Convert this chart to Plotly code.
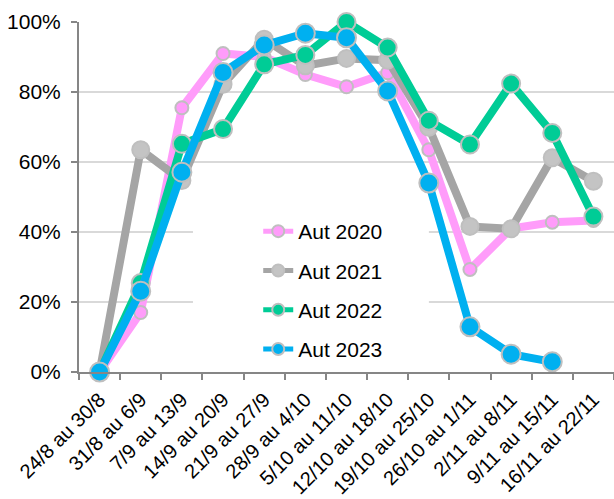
import plotly.graph_objects as go

# Weekly periods (autumn season)
weeks = [
    "24/8 au 30/8", "31/8 au 6/9", "7/9 au 13/9", "14/9 au 20/9",
    "21/9 au 27/9", "28/9 au 4/10", "5/10 au 11/10", "12/10 au 18/10",
    "19/10 au 25/10", "26/10 au 1/11", "2/11 au 8/11", "9/11 au 15/11",
    "16/11 au 22/11",
]

# Share per week, one list per autumn
aut_2020 = [0.00, 0.17, 0.755, 0.91, 0.90, 0.85, 0.815, 0.855, 0.635, 0.293, 0.41, 0.428, 0.433]
aut_2021 = [0.00, 0.635, 0.547, 0.822, 0.951, 0.875, 0.896, 0.891, 0.699, 0.416, 0.409, 0.612, 0.545]
aut_2022 = [0.00, 0.254, 0.652, 0.694, 0.879, 0.906, 1.00, 0.927, 0.718, 0.650, 0.824, 0.683, 0.444]
aut_2023 = [0.00, 0.231, 0.571, 0.856, 0.934, 0.968, 0.955, 0.803, 0.540, 0.129, 0.051, 0.029, None]

series = [
    ("Aut 2020", aut_2020, "#FF9CFA", "#FF9CFA", 13),
    ("Aut 2021", aut_2021, "#A5A5A5", "#C4C4C4", 17),
    ("Aut 2022", aut_2022, "#00CC96", "#00CC96", 18),
    ("Aut 2023", aut_2023, "#00B0F0", "#00B0F0", 19),
]

FONT = "Liberation Sans, Arial, sans-serif"

fig = go.Figure()
for name, values, line_color, marker_color, msize in series:
    fig.add_trace(go.Scatter(
        x=weeks, y=values, name=name, mode="lines+markers",
        legendgroup=name,
        line=dict(color=line_color, width=8),
        marker=dict(size=msize, color=marker_color,
                    line=dict(color="#BFBFBF", width=2)),
        cliponaxis=False,
        connectgaps=False,
    ))

# White panel behind the legend box, masking the gridlines in that area
fig.add_shape(
    type="rect", xref="paper", yref="paper",
    x0=0.213, x1=0.654, y0=0.015, y1=0.455,
    fillcolor="white", line=dict(width=0), layer="above",
)

fig.update_layout(
    width=614, height=499,
    margin=dict(l=79, r=0, t=22, b=127),
    paper_bgcolor="white", plot_bgcolor="white",
    font=dict(family=FONT, size=21, color="black"),
    showlegend=True,
    legend=dict(
        x=0.335, y=0.46, xanchor="left", yanchor="top",
        bgcolor="white", borderwidth=0,
        font=dict(family=FONT, size=21, color="black"),
        itemsizing="constant", tracegroupgap=9,
    ),
    xaxis=dict(
        type="category", range=[-0.5, len(weeks) - 0.5],
        tickangle=-45, automargin=False, ticklabelstandoff=6,
        showline=True, linecolor="#868686", linewidth=2,
        ticks="outside", tickson="boundaries", ticklen=6,
        tickcolor="#868686", tickwidth=2,
        showgrid=False, tickfont=dict(size=20),
    ),
    yaxis=dict(
        range=[0, 1], tickvals=[0, 0.2, 0.4, 0.6, 0.8, 1.0],
        tickformat=".0%", automargin=False, ticklabelstandoff=6,
        showline=True, linecolor="#868686", linewidth=2,
        ticks="outside", ticklen=6, tickcolor="#868686", tickwidth=2,
        showgrid=True, gridcolor="#D9D9D9", gridwidth=2,
        zeroline=False, tickfont=dict(size=21),
    ),
)

fig.write_html("out.html")
